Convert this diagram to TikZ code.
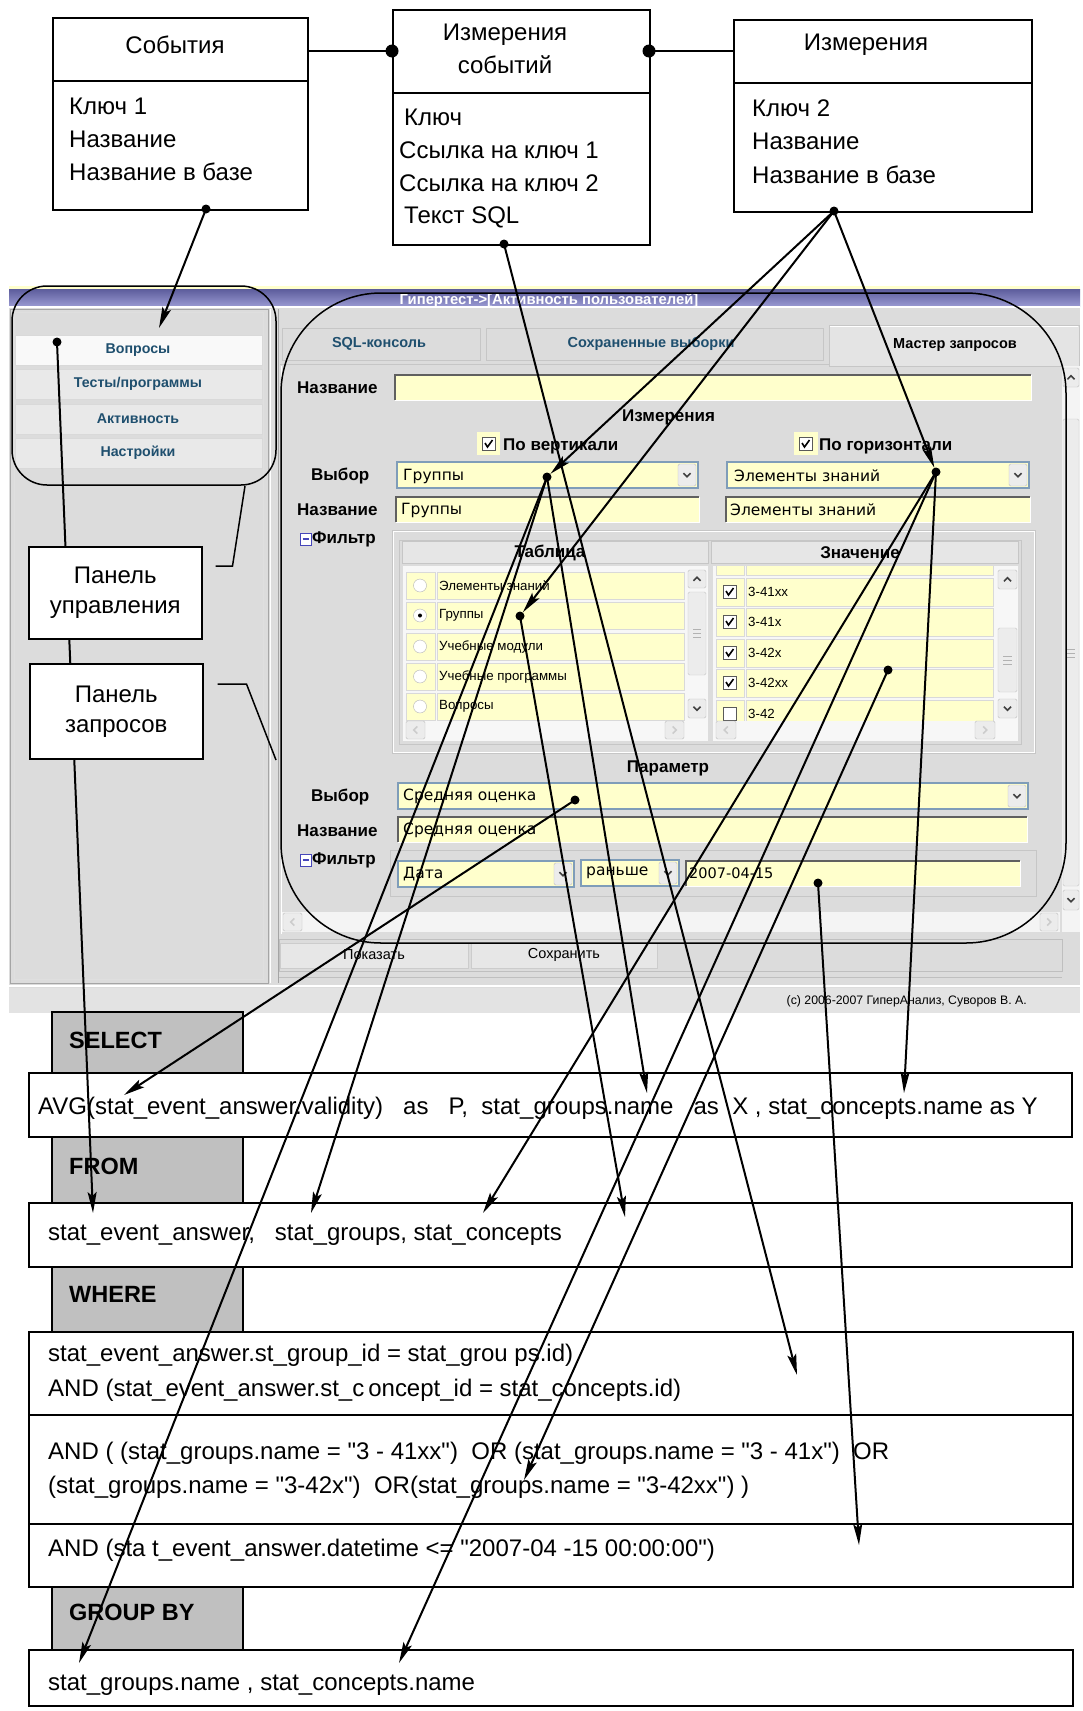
\documentclass[tikz,border=0pt]{standalone}
\usepackage{fontspec}
\setmainfont{Liberation Sans}
\newfontfamily\uifont{DejaVu Sans}
\newfontfamily\sqlfont{Liberation Sans}
\usetikzlibrary{arrows.meta}

\definecolor{winbg}{RGB}{220,220,220}
\definecolor{winline}{RGB}{165,165,165}
\definecolor{btnface}{RGB}{236,236,236}
\definecolor{fieldyel}{RGB}{255,255,204}
\definecolor{combobd}{RGB}{127,157,185}
\definecolor{menutxt}{RGB}{31,79,110}
\definecolor{titletop}{RGB}{92,92,156}
\definecolor{titlebot}{RGB}{152,152,208}
\definecolor{sqlgrey}{RGB}{192,192,192}

\newcommand{\fsize}[1]{\fontsize{#1}{#1}\selectfont}
\def\uiarrow[#1](#2,#3)(#4,#5)#6{\draw[gray!50, fill=btnface, rounded corners=1.5pt] (#2,#3) rectangle (#4,#5);
  \draw[#1, line width=1.5pt, shift={({(#2+#4)/2},{(#3+#5)/2})}, rotate=#6] (-3.5,-1.8) -- (0,1.8) -- (3.5,-1.8);}
\def\uicombo(#1,#2)(#3,#4){\draw[combobd, line width=1.2pt, fill=fieldyel] (#1,#2) rectangle (#3,#4);
  \uiarrow[black!75](#3-20,#2+2)(#3-2,#4-2){0}}
\def\uifield(#1,#2)(#3,#4){\fill[fieldyel] (#1,#2) rectangle (#3,#4);
  \draw[gray!75!black, line width=1.5pt] (#1,#4) -- (#1,#2) -- (#3,#2);
  \draw[white] (#1,#4) -- (#3,#4) -- (#3,#2);}
\def\uicheck(#1,#2)#3{\draw[gray!70!black, fill=white] (#1,#2) rectangle (#1+13,#2+13);
  \ifnum#3=1 \draw[line width=1.6pt] (#1+3,#2+6) -- (#1+5.5,#2+10) -- (#1+10.5,#2+3);\fi}
\def\uiradio(#1,#2)#3{\draw[gray!60, fill=white] (#1,#2) circle (6.5pt);
  \ifnum#3=1 \fill (#1,#2) circle (2pt);\fi}

\tikzset{
  erbox/.style={draw, line width=1.6pt, fill=white, anchor=north west, inner sep=0pt},
  ertext/.style={anchor=west, inner sep=0pt, font=\fsize{24}},
  sqltext/.style={anchor=west, inner sep=0pt, font=\sqlfont\fsize{24}},
  sqlhead/.style={anchor=west, inner sep=0pt, font=\bfseries\fsize{23.5}},
  lbl/.style={anchor=west, inner sep=0pt, font=\bfseries\fsize{17}},
  uitext/.style={anchor=west, inner sep=0pt, font=\uifont\fsize{15.5}},
  listtext/.style={anchor=west, inner sep=0pt, font=\fsize{13.3}},
  menutext/.style={inner sep=0pt, text=menutxt, font=\bfseries\fsize{14.2}},
  tabtext/.style={inner sep=0pt, text=menutxt, font=\bfseries\fsize{14.5}},
  dot/.style={circle, fill=black, inner sep=0pt, minimum size=9pt},
  link/.style={line width=2.6pt},
  annot/.style={line width=1.5pt},
  arr/.style={line width=2pt, -{Stealth[length=21pt, width=9pt, inset=4pt]}},
}

\begin{document}
\begin{tikzpicture}[x=1pt,y=-1pt]
\useasboundingbox (0,0) rectangle (1082,1711);
\fill[white] (0,0) rectangle (1082,1711);

%%%%% ER MODEL %%%%%
\node[erbox, minimum width=255, minimum height=192] (sob) at (52,17) {};
\draw[line width=1.6pt] (52,81) -- (307,81);
\node[font=\fsize{24}] (sobT) at (175,45) {События};
\node[ertext] (sob1) at (69,106) {Ключ 1};
\node[ertext] (sob2) at (69,139) {Название};
\node[ertext] (sob3) at (69,172) {Название в базе};

\node[erbox, minimum width=257, minimum height=235] (izs) at (392,9) {};
\draw[line width=1.6pt] (392,93) -- (649,93);
\node[font=\fsize{24}, align=center] (izsT) at (505,49) {Измерения\\[9pt]событий};
\node[ertext] (izs1) at (404,117) {Ключ};
\node[ertext] (izs2) at (399,150) {Ссылка на ключ 1};
\node[ertext] (izs3) at (399,183) {Ссылка на ключ 2};
\node[ertext] (izs4) at (404,217) {Текст SQL};

\node[erbox, minimum width=298, minimum height=192] (izm) at (733,19) {};
\draw[line width=1.6pt] (733,83) -- (1031,83);
\node[font=\fsize{24}] (izmT) at (866,45) {Измерения};
\node[ertext] (izm1) at (752,108) {Ключ 2};
\node[ertext] (izm2) at (752,141) {Название};
\node[ertext] (izm3) at (752,175) {Название в базе};

\node[dot, minimum width=10pt, minimum height=13pt] (dSI) at (392,51) {};
\draw[link] (sob.east |- dSI) -- (dSI.center);
\node[dot, minimum width=10pt, minimum height=13pt] (dIS) at (649,51) {};
\draw[link] (dIS.center) -- (izm.west |- dIS);

%%%%% SCREEN %%%%%
\fill[winbg] (9,286) rectangle (1080,1013);
\fill[fieldyel] (9,286) rectangle (1080,289);
\shade[top color=titletop, bottom color=titlebot] (9,289) rectangle (1080,306);
\begin{scope}
  \clip (9,289) rectangle (1080,306);
  \node[anchor=base, inner sep=0pt, text=white, font=\bfseries\fsize{14.8}] (winTitle) at (549,304) {Гипертест->[Активность пользователей]};
\end{scope}
\draw[white, line width=2pt] (9,307) -- (1080,307);

% left menu
\draw[winline] (10,309) rectangle (268,983);
\draw[white] (270,309) -- (270,983);
\draw[winline] (278,309) -- (278,983);
\draw[gray!25] (14,312) rectangle (263,979);
\foreach \y/\t/\col [count=\i] in {335/Вопросы/white!70!btnface, 369/{Тесты/программы}/btnface!80!winbg, 404/Активность/btnface!80!winbg, 438/Настройки/btnface!80!winbg}{
  \draw[gray!30, fill=\col] (15,\y) rectangle (262,\y+30);
  \node[menutext] (menu\i) at (138,\y+15) {\t};
}

% tabs
\draw[gray!45, fill=winbg] (282,328) rectangle (480,360);
\node[tabtext] (tabSql) at (379,344) {SQL-консоль};
\draw[gray!45, fill=winbg] (486,328) rectangle (823,360);
\node[tabtext] (tabSaved) at (651,344) {Сохраненные выборки};
\draw[gray!45, fill=btnface!50!winbg] (829,325) rectangle (1079,366);
\draw[white] (830,326) -- (1078,326);
\node[tabtext, text=black] (tabMaster) at (955,345) {Мастер запросов};
\draw[gray!45] (280,364) -- (829,364);
\draw[white] (281,366) -- (281,934);

% right scrollbar
\fill[btnface!60!white] (1062,366) rectangle (1080,932);
\uiarrow[black!75](1063,368)(1079,387){180}
\draw[gray!45, fill=btnface, rounded corners=1.5pt] (1063,419) rectangle (1079,886);
\foreach \g in {649,653,657}{\draw[gray!60] (1067,\g) -- (1075,\g);}
\uiarrow[black!75](1063,890)(1079,910){0}
\fill[btnface!60!white] (282,912) rectangle (1060,932);
\uiarrow[gray!40](283,913)(302,931){-90}
\uiarrow[gray!40](1040,913)(1058,931){90}

% query form
\node[lbl] (lName) at (297,388) {Название};
\uifield(395,375)(1031,400)
\node[lbl] (lDims) at (622,417) {Измерения};
\fill[fieldyel] (477,432) rectangle (500,455);
\uicheck(482,437){1}
\node[lbl] (lVert) at (503,446) {По вертикали};
\fill[fieldyel] (794,432) rectangle (818,455);
\uicheck(799,437){1}
\node[lbl] (lHor) at (819,446) {По горизонтали};

\node[lbl] (lSel) at (311,476) {Выбор};
\uicombo(397,462)(698,488)
\node[uitext] (cGrp) at (403,476) {Группы};
\uicombo(727,462)(1029,488)
\node[uitext] (cEz) at (734,476) {Элементы знаний};
\node[lbl] (lName2) at (297,510) {Название};
\uifield(396,497)(699,522)
\node[uitext] (fGrp) at (401,510) {Группы};
\uifield(726,497)(1030,522)
\node[uitext] (fEz) at (730,510) {Элементы знаний};

\draw[blue!45!gray, fill=white] (300,533) rectangle (311,545);
\draw[blue!45!gray, line width=1.2pt] (302.5,539) -- (308.5,539);
\node[lbl] (lFilt) at (312,539) {Фильтр};
\draw[gray!45] (392,530) rectangle (1035,753);
\draw[white] (393,531) rectangle (1034,752);
\draw[gray!45] (399,540) rectangle (1021,744);
\draw[gray!45, fill=btnface!60!winbg] (402,541) rectangle (708,563);
\node[inner sep=0pt, font=\bfseries\fsize{17}] (hTab) at (550,553) {Таблица};
\draw[gray!45, fill=btnface!60!winbg] (711,541) rectangle (1018,563);
\node[inner sep=0pt, font=\bfseries\fsize{17}] (hVal) at (860,553) {Значение};

% table list
\fill[white!60!btnface] (403,566) rectangle (708,741);
\begin{scope}
  \clip (403,566) rectangle (708,720);
  \foreach \y/\t/\s [count=\i] in {572/Элементы знаний/0, 602/Группы/1, 633/Учебные модули/0, 663/Учебные программы/0, 693/Вопросы/0}{
    \draw[gray!30, fill=fieldyel] (406,\y) rectangle (435,\y+27);
    \draw[gray!30, fill=fieldyel] (437,\y) rectangle (684,\y+27);
    \uiradio(420,\y+13.5){\s}
    \node[listtext] (tab\i) at (439,\y+13.5) {\t};
  }
\end{scope}
\uiarrow[black!75](688,570)(706,588){180}
\draw[gray!45, fill=btnface, rounded corners=1.5pt] (688,592) rectangle (706,675);
\foreach \g in {629,633,637}{\draw[gray!60] (693,\g) -- (701,\g);}
\uiarrow[black!75](688,699)(706,718){0}
\uiarrow[gray!40](406,721)(425,739){-90}
\uiarrow[gray!40](665,721)(684,739){90}

% value list
\fill[white!60!btnface] (713,566) rectangle (1018,741);
\begin{scope}
  \clip (713,566) rectangle (1018,720);
  \draw[gray!30, fill=fieldyel] (716,548) rectangle (744,575);
  \draw[gray!30, fill=fieldyel] (746,548) rectangle (993,575);
  \foreach \y/\t/\s [count=\i] in {578/3-41xx/1, 608/3-41x/1, 639/3-42x/1, 669/3-42xx/1, 700/3-42/0}{
    \draw[gray!30, fill=fieldyel] (716,\y) rectangle (744,\y+28);
    \draw[gray!30, fill=fieldyel] (746,\y) rectangle (993,\y+28);
    \uicheck(723,\y+7){\s}
    \node[listtext] (val\i) at (748,\y+14) {\t};
  }
\end{scope}
\uiarrow[black!75](998,570)(1017,589){180}
\draw[gray!45, fill=btnface, rounded corners=1.5pt] (998,628) rectangle (1017,692);
\foreach \g in {656,660,664}{\draw[gray!60] (1003,\g) -- (1012,\g);}
\uiarrow[black!75](998,699)(1017,718){0}
\uiarrow[gray!40](716,721)(736,739){-90}
\uiarrow[gray!40](975,721)(995,739){90}

% parameter
\node[inner sep=0pt, font=\bfseries\fsize{17}] (lPar) at (668,768) {Параметр};
\node[lbl] (lSel2) at (311,797) {Выбор};
\uicombo(398,783)(1028,809)
\node[uitext] (cAvg) at (403,796) {Средняя оценка};
\node[lbl] (lName3) at (297,831) {Название};
\uifield(398,817)(1027,842)
\node[uitext] (fAvg) at (403,830) {Средняя оценка};
\draw[blue!45!gray, fill=white] (300,854) rectangle (311,866);
\draw[blue!45!gray, line width=1.2pt] (302.5,860) -- (308.5,860);
\node[lbl] (lFilt2) at (312,860) {Фильтр};
\draw[gray!45] (390,850) rectangle (1036,896);
\uicombo(398,861)(574,887)
\node[uitext] (cDate) at (403,874) {Дата};
\uicombo(581,860)(679,886)
\node[uitext] (cBefore) at (586,873) {раньше};
\uifield(686,861)(1020,886)
\node[uitext, font=\uifont\fsize{14.5}] (fDate) at (689,873) {2007-04-15};

% buttons and status bar
\draw[gray!50] (279,939) rectangle (1062,971);
\draw[gray!40, fill=btnface!70!winbg] (280,943) rectangle (468,968);
\node[inner sep=0pt, font=\fsize{14.5}] (bShow) at (374,955) {Показать};
\draw[gray!40, fill=btnface!70!winbg] (471,943) rectangle (657,968);
\node[inner sep=0pt, font=\fsize{14.5}] (bSave) at (564,955) {Сохранить};
\draw[gray!50] (279,977) -- (1062,977);
\draw[white, line width=2pt] (9,986) -- (1080,986);
\fill[winbg!80!white] (9,988) rectangle (1080,1013);
\node[anchor=east, inner sep=0pt, font=\fsize{12.3}] (copy) at (1027,1001) {(c) 2006-2007 ГиперАнализ, Суворов В. А.};

%%%%% SQL %%%%%
\draw[line width=1.3pt, fill=sqlgrey] (52,1012) rectangle (243,1073);
\node[sqlhead] (hSelect) at (69,1040) {SELECT};
\draw[line width=1.3pt] (29,1073) rectangle (1072,1137);
\node[sqltext] (qSelect) at (38,1108) {AVG(stat\_event\_answer.validity)~~~as~~~P,~~stat\_groups.name~~~as~~X , stat\_concepts.name as Y};
\draw[line width=1.3pt, fill=sqlgrey] (52,1137) rectangle (243,1203);
\node[sqlhead] (hFrom) at (69,1166) {FROM};
\draw[line width=1.3pt] (29,1203) rectangle (1072,1267);
\node[sqltext] (qFrom) at (48,1235) {stat\_event\_answer,~~~stat\_groups, stat\_concepts};
\draw[line width=1.3pt, fill=sqlgrey] (52,1267) rectangle (243,1332);
\node[sqlhead] (hWhere) at (69,1294) {WHERE};
\draw[line width=1.3pt] (29,1332) rectangle (1073,1415);
\node[sqltext] (qWhere1) at (48,1355) {stat\_event\_answer.st\_group\_id = stat\_grou ps.id)};
\node[sqltext] (qWhere2) at (48,1390) {AND (stat\_event\_answer.st\_c\,oncept\_id = stat\_concepts.id)};
\draw[line width=1.3pt] (29,1415) rectangle (1073,1524);
\node[sqltext] (qWhere3) at (48,1453) {AND ( (stat\_groups.name = "3 - 41xx")~~OR (stat\_groups.name = "3 - 41x")~~OR};
\node[sqltext] (qWhere4) at (48,1487) {(stat\_groups.name = "3-42x")~~OR(stat\_groups.name = "3-42xx") )};
\draw[line width=1.3pt] (29,1524) rectangle (1073,1587);
\node[sqltext] (qWhere5) at (48,1550) {AND (sta t\_event\_answer.datetime <= "2007-04 -15 00:00:00")};
\draw[line width=1.3pt, fill=sqlgrey] (52,1587) rectangle (243,1650);
\node[sqlhead] (hGroup) at (69,1612) {GROUP BY};
\draw[line width=1.3pt] (29,1650) rectangle (1073,1706);
\node[sqltext] (qGroup) at (48,1685) {stat\_groups.name , stat\_concepts.name};

%%%%% LINKS %%%%%
\node[dot] (dVopr) at (57,342) {};
\coordinate (tFromSea) at (93,1213);
\draw[arr] (dVopr.center) -- (tFromSea);

% annotations
\draw[annot, rounded corners=35pt] (12,286) rectangle (276,485);
\draw[annot, rounded corners=100pt] (281,293) rectangle (1066,943);
\node[draw, annot, fill=white, minimum width=173, minimum height=92, anchor=north west, font=\fsize{24}, align=center] (pCtrl) at (28,546) {Панель\\[6pt]управления};
\node[draw, annot, fill=white, minimum width=173, minimum height=95, anchor=north west, font=\fsize{24}, align=center] (pQry) at (29,663) {Панель\\[6pt]запросов};
\coordinate (cCtrl) at (245,486);
\coordinate (cQry) at (276,760);
\draw[annot] ([xshift=13pt]pCtrl.east |- 0,566) -- ++(17,0) -- (cCtrl);
\draw[annot] ([xshift=14pt]pQry.east |- 0,684) -- ++(29,0) -- (cQry);

% dots
\node[dot] (dSob) at (206,209) {};
\node[dot] (dIzs) at (504,244) {};
\node[dot] (dIzm) at (834,211) {};
\node[dot] (dGrpCombo) at (547,477) {};
\node[dot] (dGrpList) at (520,616) {};
\node[dot] (dEzCombo) at (936,472) {};
\node[dot] (d42xx) at (888,670) {};
\node[dot] (dAvg) at (575,800) {};
\node[dot] (dDate) at (818,883) {};

% targets
\coordinate (tVopr) at (159,328);
\coordinate (tWhere1) at (797,1375);
\coordinate (tGrbGroups) at (79,1663);
\coordinate (tFromGroups) at (311,1213);
\coordinate (tSelGroups) at (647,1093);
\coordinate (tFromBlank) at (625,1217);
\coordinate (tFromConc) at (483,1213);
\coordinate (tGrbConc) at (399,1663);
\coordinate (tSelConc) at (904,1093);
\coordinate (tWhereOr) at (524,1480);
\coordinate (tSelAvg) at (124,1095);
\coordinate (tWhere3) at (859,1545);

\draw[arr] (dSob.center) -- (tVopr);
\draw[arr] (dIzs.center) -- (tWhere1);
\draw[arr] (dIzm.center) -- (dGrpCombo);
\draw[arr] (dIzm.center) -- (dGrpList);
\draw[arr] (dIzm.center) -- (dEzCombo);
\draw[arr] (dGrpCombo.center) -- (tGrbGroups);
\draw[arr] (dGrpCombo.center) -- (tFromGroups);
\draw[arr] (dGrpCombo.center) -- (tSelGroups);
\draw[arr] (dGrpList.center) -- (tFromBlank);
\draw[arr] (dEzCombo.center) -- (tFromConc);
\draw[arr] (dEzCombo.center) -- (tGrbConc);
\draw[arr] (dEzCombo.center) -- (tSelConc);
\draw[arr] (d42xx.center) -- (tWhereOr);
\draw[arr] (dAvg.center) -- (tSelAvg);
\draw[arr] (dDate.center) -- (tWhere3);
\end{tikzpicture}
\end{document}
